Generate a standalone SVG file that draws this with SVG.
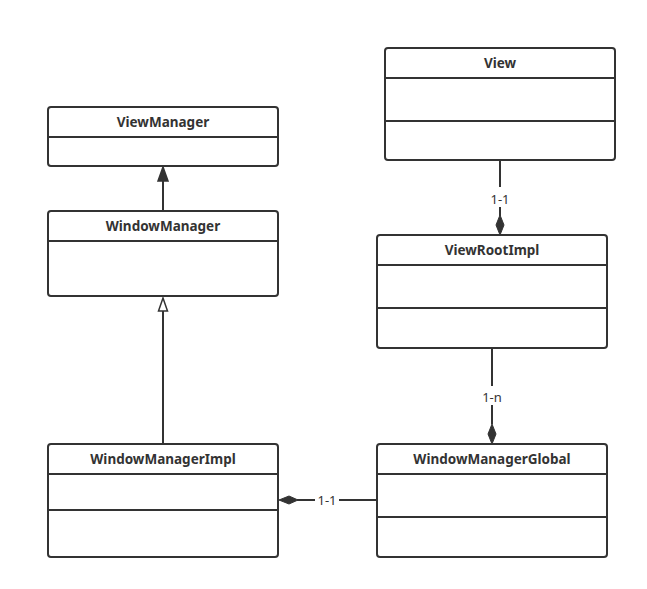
<svg xmlns="http://www.w3.org/2000/svg" width="647" height="589" viewBox="0 0 647 589">
<defs>
<style>
.box{fill:#fff;stroke:#333;stroke-width:2}
.div{stroke:#333;stroke-width:2}
.t{font-family:"Noto Sans","Liberation Sans",sans-serif;font-weight:bold;font-size:13.5px;fill:#333;text-anchor:middle}
.l{font-family:"Noto Sans","Liberation Sans",sans-serif;font-size:13px;fill:#333;text-anchor:middle}
.c{stroke:#333;stroke-width:2;fill:none}
.dia{fill:#333;stroke:#333;stroke-width:1}
</style>
</defs>
<rect width="647" height="589" fill="#fff"/>
<g id="connectors">
<line class="c" x1="163" y1="211" x2="163" y2="180"/>
<polygon points="163,167 158,181 168,181" fill="#333" stroke="#333" stroke-width="1.5"/>
<line class="c" x1="163" y1="444" x2="163" y2="311"/>
<polygon points="163,298 158.5,311 167.5,311" fill="#fff" stroke="#333" stroke-width="1.5"/>
<line class="c" x1="500" y1="160" x2="500" y2="187"/>
<line class="c" x1="500" y1="207" x2="500" y2="216"/>
<text class="l" x="500" y="204">1-1</text>
<polygon class="dia" points="500,215 504,225 500,235 496,225"/>
<line class="c" x1="492" y1="348" x2="492" y2="386"/>
<line class="c" x1="492" y1="405" x2="492" y2="424"/>
<text class="l" x="492" y="402">1-n</text>
<polygon class="dia" points="492,424 496,434 492,444 488,434"/>
<line class="c" x1="377" y1="500" x2="339" y2="500"/>
<line class="c" x1="315" y1="500" x2="297" y2="500"/>
<text class="l" x="327" y="505">1-1</text>
<polygon class="dia" points="279,500 289,496 298,500 289,504"/>
</g>
<g id="ViewManager">
<rect class="box" x="48" y="107" width="230" height="59" rx="3"/>
<line class="div" x1="48" y1="137" x2="278" y2="137"/>
<text class="t" x="163" y="127">ViewManager</text>
</g>
<g id="WindowManager">
<rect class="box" x="48" y="211" width="230" height="85" rx="3"/>
<line class="div" x1="48" y1="241" x2="278" y2="241"/>
<text class="t" x="163" y="231">WindowManager</text>
</g>
<g id="View">
<rect class="box" x="385" y="48" width="230" height="112" rx="3"/>
<line class="div" x1="385" y1="78" x2="615" y2="78"/>
<line class="div" x1="385" y1="121" x2="615" y2="121"/>
<text class="t" x="500" y="68">View</text>
</g>
<g id="ViewRootImpl">
<rect class="box" x="377" y="235" width="230" height="113" rx="3"/>
<line class="div" x1="377" y1="265" x2="607" y2="265"/>
<line class="div" x1="377" y1="308" x2="607" y2="308"/>
<text class="t" x="492" y="255">ViewRootImpl</text>
</g>
<g id="WindowManagerImpl">
<rect class="box" x="48" y="444" width="230" height="113" rx="3"/>
<line class="div" x1="48" y1="474" x2="278" y2="474"/>
<line class="div" x1="48" y1="510" x2="278" y2="510"/>
<text class="t" x="163" y="464">WindowManagerImpl</text>
</g>
<g id="WindowManagerGlobal">
<rect class="box" x="377" y="444" width="230" height="113" rx="3"/>
<line class="div" x1="377" y1="474" x2="607" y2="474"/>
<line class="div" x1="377" y1="517" x2="607" y2="517"/>
<text class="t" x="492" y="464">WindowManagerGlobal</text>
</g>
</svg>
